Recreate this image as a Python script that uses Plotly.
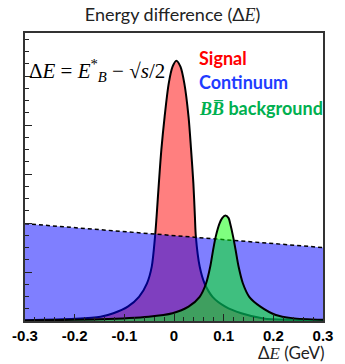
import plotly.graph_objects as go

# ---------------- data ----------------
sig_x = [-0.30, -0.20, -0.148, -0.122, -0.093, -0.0705, -0.0544, -0.0448, -0.0382, -0.0351,
         -0.0305, -0.0255, -0.0189, -0.0106, -0.0029, 0.0048, 0.013, 0.0208, 0.0293, 0.0344,
         0.039, 0.0421, 0.044, 0.0517, 0.0614, 0.0776, 0.1033, 0.1355, 0.180, 0.24, 0.30]
sig_y = [0.003, 0.008, 0.015, 0.027, 0.050, 0.084, 0.131, 0.189, 0.293, 0.362,
         0.478, 0.594, 0.709, 0.825, 0.883, 0.904, 0.883, 0.825, 0.709, 0.594,
         0.478, 0.362, 0.293, 0.189, 0.131, 0.084, 0.050, 0.027, 0.009, 0.004, 0.002]

cont_x = [-0.30, 0.30]
cont_y = [0.338, 0.255]

bb_x = [-0.30, -0.15, -0.051, -0.003, 0.0293, 0.0517, 0.0647, 0.073, 0.0788, 0.084, 0.0917,
        0.097, 0.1033, 0.110, 0.113, 0.119, 0.124, 0.130, 0.1386, 0.1515, 0.174, 0.205,
        0.238, 0.30]
bb_y = [0.002, 0.006, 0.015, 0.027, 0.050, 0.084, 0.131, 0.189, 0.247, 0.293, 0.339,
        0.357, 0.366, 0.357, 0.339, 0.293, 0.247, 0.189, 0.131, 0.084, 0.050, 0.021,
        0.010, 0.004]

x_tickvals = [-0.3, -0.2, -0.1, 0.0, 0.1, 0.2, 0.3]
x_ticktext = ["-0.3", "-0.2", "-0.1", "0", "0.1", "0.2", "0.3"]

title_text = "Energy difference (Δ<i><span style='font-family:Liberation Serif'>E</span></i>)"

# ---------------- figure ----------------
fig = go.Figure()
fig.add_trace(go.Scatter(x=sig_x, y=sig_y, mode="lines", fill="tozeroy",
                         fillcolor="rgba(255,0,0,0.5)",
                         line=dict(color="black", width=2, shape="spline", smoothing=0.8),
                         showlegend=False, hoverinfo="skip"))
fig.add_trace(go.Scatter(x=cont_x, y=cont_y, mode="lines", fill="tozeroy",
                         fillcolor="rgba(0,0,255,0.5)",
                         line=dict(color="black", width=1.5, dash="4px,3px"),
                         showlegend=False, hoverinfo="skip"))
fig.add_trace(go.Scatter(x=bb_x, y=bb_y, mode="lines", fill="tozeroy",
                         fillcolor="rgba(0,255,0,0.5)",
                         line=dict(color="black", width=2, shape="spline", smoothing=0.8),
                         showlegend=False, hoverinfo="skip"))

fig.update_xaxes(range=[-0.3, 0.3], tickvals=x_tickvals, ticktext=x_ticktext,
                 ticks="inside", ticklen=7, tickwidth=1, tickcolor="#222",
                 minor=dict(dtick=0.02, ticks="inside", ticklen=4, tickcolor="#222"),
                 showgrid=False, zeroline=False, showline=True, linecolor="#333",
                 linewidth=2, mirror=True,
                 tickfont=dict(family="Liberation Sans", size=15, color="black", weight="bold"))
fig.update_yaxes(range=[0, 1], dtick=0.17, tick0=0, showticklabels=False,
                 ticks="inside", ticklen=7, tickwidth=1, tickcolor="#222",
                 minor=dict(dtick=0.0425, ticks="inside", ticklen=4, tickcolor="#222"),
                 showgrid=False, zeroline=False, showline=True, linecolor="#333",
                 linewidth=2, mirror=True)

serif = "Liberation Serif"
ann = [
    dict(x=0.0064, y=0.8715, xanchor="left", yanchor="middle",
         text=("Δ<i>E</i> = <i>E</i><sup>*</sup><sub><i>B</i></sub> − √<i>s</i>/2"),
         font=dict(family=serif, size=21, color="black")),
    dict(x=0.5756, y=0.913, xanchor="left", yanchor="middle", text="<b>Signal</b>",
         font=dict(family="Lato", size=18, color="#ff0000")),
    dict(x=0.5756, y=0.830, xanchor="left", yanchor="middle", text="<b>Continuum</b>",
         font=dict(family="Lato", size=18, color="#1f3cff")),
    dict(x=0.5756, y=0.740, xanchor="left", yanchor="middle",
         text=("<b><i><span style='font-family:Liberation Serif'>BB\u0305</span></i> background</b>"),
         font=dict(family="Lato", size=18, color="#00b050")),
    dict(x=1.015, y=-0.108, xanchor="right", yanchor="middle",
         text="Δ<i><span style='font-family:Liberation Serif'>E</span></i> (GeV)",
         font=dict(family="Lato", size=17, color="#222")),
]
for a in ann:
    a.update(xref="paper", yref="paper", showarrow=False)
fig.update_layout(annotations=ann)

fig.update_layout(
    width=345, height=364, margin=dict(l=21, r=13, t=33, b=43),
    paper_bgcolor="white", plot_bgcolor="white",
    title=dict(text=title_text, x=0.5, xref="container", xanchor="center",
               y=1 - 15 / 364, yref="container", yanchor="middle",
               font=dict(family="Lato", size=18, color="#222")),
)

fig.write_html("out.html")
